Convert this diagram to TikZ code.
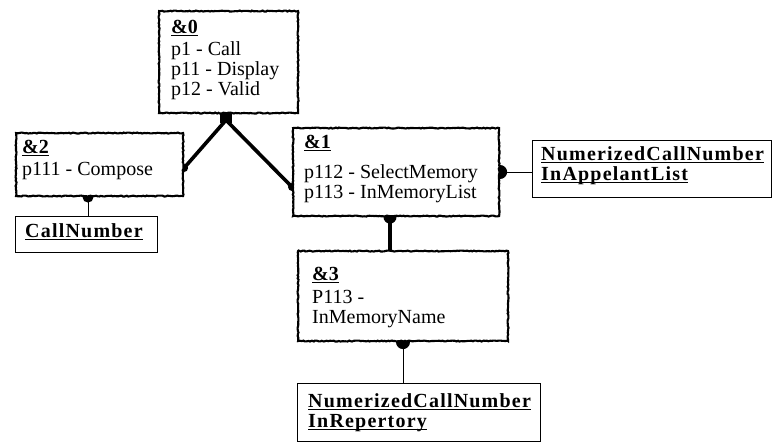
\documentclass[tikz,border=0pt]{standalone}
\usepackage{fontspec}
\setmainfont{Liberation Serif}
\newfontfamily\entfont[LetterSpace=6]{Liberation Serif}
\usetikzlibrary{calc,decorations.pathmorphing}
\pgfdeclarelayer{bg}
\pgfsetlayers{bg,main}
% underline sitting just below the baseline, through descenders
\newcommand\ulx[1]{\setbox0\hbox{#1}\rlap{\vrule width\wd0 height -1.5pt depth 2.9pt}\box0}
% stack of text lines with a fixed baseline distance
\newcommand\stk[2]{\vtop{\baselineskip=#1\lineskiplimit=-40pt\lineskip=0pt #2}}
\newcommand\lineof[1]{\hbox{#1}}
\begin{document}
\begin{tikzpicture}[x=1pt,y=-1pt,
  opbox/.style={draw, fill=white, line width=2.1pt, inner sep=0pt, anchor=north west,
    decorate, decoration={random steps, segment length=1.7pt, amplitude=0.5pt}},
  entbox/.style={draw, fill=white, line width=1pt, inner sep=0pt, anchor=north west},
  txt/.style={anchor=base west, inner sep=0pt, font=\fontsize{20}{20}\selectfont},
  enttxt/.style={anchor=base west, inner sep=0pt, font=\fontsize{20}{20}\entfont\bfseries},
  link/.style={line width=3.6pt},
  thinlink/.style={line width=1pt},
]
\useasboundingbox (0,0) rectangle (772,442);
\pgfmathsetseed{7}

% operation boxes
\node[opbox, minimum width=139pt, minimum height=102pt] (b0) at (158,10) {};
\node[opbox, minimum width=167pt, minimum height=63pt] (b2) at (15,132) {};
\node[opbox, minimum width=206pt, minimum height=88pt] (b1) at (292,127) {};
\node[opbox, minimum width=210pt, minimum height=90pt] (b3) at (297,250) {};

% entity boxes
\node[entbox, minimum width=142pt, minimum height=36pt] (e1) at (15,216) {};
\node[entbox, minimum width=239pt, minimum height=57pt] (e2) at (532,140) {};
\node[entbox, minimum width=243pt, minimum height=58pt] (e3) at (297,383) {};

% texts
\node[txt] (t0) at (171,33) {\stk{20pt}{\lineof{\ulx{\bfseries\&0}}\vskip2pt
  \lineof{p1 - Call}\lineof{p11 - Display}\lineof{p12 - Valid}}};
\node[txt] (t2) at (22,153) {\stk{20pt}{\lineof{\ulx{\bfseries\&2}}\vskip2pt
  \lineof{p111 - Compose}}};
\node[txt] (t1) at (304,148) {\stk{19.5pt}{\lineof{\ulx{\bfseries\&1}}\vskip11pt
  \lineof{p112 - SelectMemory}\lineof{p113 - InMemoryList}}};
\node[txt] (t3) at (312,280) {\stk{20pt}{\lineof{\ulx{\bfseries\&3}}\vskip3pt
  \lineof{P113 -}\lineof{InMemoryName}}};

\node[enttxt] (u1) at (25,237) {\ulx{CallNumber}};
\node[enttxt] (u2) at (541,160) {\stk{20pt}{\lineof{\ulx{NumerizedCallNumber}}\lineof{\ulx{InAppelantList}}}};
\node[enttxt] (u3) at (308,407) {\stk{20pt}{\lineof{\ulx{NumerizedCallNumber}}\lineof{\ulx{InRepertory}}}};

% connection points
\coordinate (j0) at ($(b0.south west)+(68,0)$);
\coordinate (j0x) at ($(j0)+(0,6)$);
\coordinate (p2) at ($(b2.north east)+(0,36)$);
\coordinate (p1) at ($(b1.north west)+(0,60)$);
\coordinate (q1) at ($(b1.south west)+(98,0)$);
\coordinate (q3) at (q1 |- b3.north);
\coordinate (r3) at ($(b3.south west)+(106,0)$);
\coordinate (r4) at (r3 |- e3.north);
\coordinate (s1) at ($(b1.north east)+(0,45)$);
\coordinate (s2) at (s1 -| e2.west);
\coordinate (v1) at ($(b2.south west)+(73,0)$);
\coordinate (v2) at (v1 |- e1.north);

\begin{pgfonlayer}{bg}
  % decomposition links
  \fill ($(j0)+(-6,-2)$) rectangle ($(j0)+(6,9)$);
  \draw[link] (j0x) -- (p2);
  \draw[link] (j0x) -- (p1);
  \fill (p2) circle (4);
  \fill (p1) circle (4);
  \draw[link] (q1) -- (q3);
  \fill (q1) circle (6.5);
  % entity links
  \draw[thinlink] (r3) -- (r4);
  \fill (r3) circle (7);
  \draw[thinlink] (s1) -- (s2);
  \fill (s1) circle (7);
  \draw[thinlink] (v1) -- (v2);
  \fill (v1) circle (5.5);
\end{pgfonlayer}
\end{tikzpicture}
\end{document}
